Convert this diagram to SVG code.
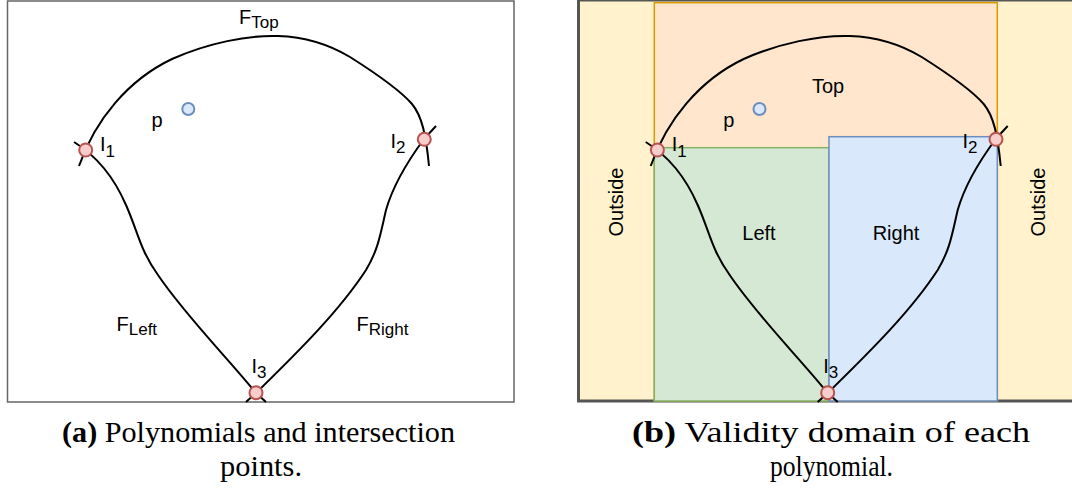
<svg xmlns="http://www.w3.org/2000/svg" xmlns:xlink="http://www.w3.org/1999/xlink" width="1072" height="490" viewBox="0 0 1072 490">
<style>
.lbl{font-family:"Liberation Sans",Arial,sans-serif;font-size:20px;fill:#000}
.sub{font-size:17px}
.curve{fill:none;stroke:#000;stroke-width:2}
.ipt{fill:#f8cecc;stroke:#b85450;stroke-width:2}
.ppt{fill:#dae8fc;stroke:#6c8ebf;stroke-width:2}
.cap{font-family:"Liberation Serif","Times New Roman",serif;font-size:30px;fill:#000}
.capb{font-weight:bold}
</style>
<defs>
<path id="fTop" d="M79,166 C95,120 128,80 172,59 C208,43 248,35 278,36 C308,37 330,45 350,57 C380,76 400,90 412,104 C422,116 426,135 429,166"/>
<path id="fLeft" d="M74,142 C100,158 116,182 126,205 C138,232 140,250 158,275 C185,315 225,355 256,393 L266,402"/>
<path id="fRight" d="M436,126 L424,139 C410,158 394,182 386,210 C380,236 378,250 366,270 C340,310 300,350 256,393 L246,402"/>
</defs>

<!-- Panel (a) -->
<g id="panelA">
<rect id="frameA" x="7.5" y="1" width="506.5" height="401" fill="#fff" stroke="#666" stroke-width="1.5"/>
<g id="connectorsA">
<use xlink:href="#fTop" class="curve"/>
<use xlink:href="#fLeft" class="curve"/>
<use xlink:href="#fRight" class="curve"/>
</g>
<g id="labelFTop"><text class="lbl" x="239" y="23.5">F<tspan class="sub" dy="4">Top</tspan></text></g>
<g id="labelFLeft"><text class="lbl" x="116.5" y="330.7">F<tspan class="sub" dy="4.5">Left</tspan></text></g>
<g id="labelFRight"><text class="lbl" x="356.5" y="330.7">F<tspan class="sub" dy="4.5">Right</tspan></text></g>
<g id="nodeA_p"><circle class="ppt" cx="188.3" cy="109" r="6"/><text class="lbl" x="151.5" y="127">p</text></g>
<g id="nodeA_I1"><circle class="ipt" cx="85.7" cy="150" r="6.5"/><text class="lbl" x="100" y="151">I<tspan class="sub" dy="5.5">1</tspan></text></g>
<g id="nodeA_I2"><circle class="ipt" cx="424.3" cy="139.3" r="6.5"/><text class="lbl" x="390.5" y="147.5">I<tspan class="sub" dy="5">2</tspan></text></g>
<g id="nodeA_I3"><circle class="ipt" cx="256" cy="392.7" r="6.5"/><text class="lbl" x="251.5" y="373.3">I<tspan class="sub" dy="5">3</tspan></text></g>
</g>

<!-- Panel (b) -->
<g id="panelB">
<rect id="frameB" x="578.5" y="0" width="500" height="401" fill="#fff2cc" stroke="#555" stroke-width="3"/>
<g id="regionTop"><rect x="654.3" y="2.7" width="343" height="398" fill="#ffe6cc" stroke="#d79b00" stroke-width="1.5"/></g>
<g id="regionLeft"><rect x="654.3" y="147.7" width="174.7" height="253.3" fill="#d5e8d4" stroke="#82b366" stroke-width="1.5"/></g>
<g id="regionRight"><rect x="829" y="136.7" width="168.3" height="264.3" fill="#dae8fc" stroke="#6c8ebf" stroke-width="1.5"/></g>
<g id="labelTop"><text class="lbl" x="828" y="92.7" text-anchor="middle">Top</text></g>
<g id="labelLeft"><text class="lbl" x="759" y="240" text-anchor="middle">Left</text></g>
<g id="labelRight"><text class="lbl" x="896" y="240" text-anchor="middle">Right</text></g>
<g id="labelOutsideL"><text class="lbl" transform="translate(622.5,202) rotate(-90)" text-anchor="middle">Outside</text></g>
<g id="labelOutsideR"><text class="lbl" transform="translate(1045,202) rotate(-90)" text-anchor="middle">Outside</text></g>
<g id="connectorsB" transform="translate(571.7,0)">
<use xlink:href="#fTop" class="curve"/>
<use xlink:href="#fLeft" class="curve"/>
<use xlink:href="#fRight" class="curve"/>
</g>
<g id="nodeB_p"><circle class="ppt" cx="759.5" cy="109" r="6"/><text class="lbl" x="723.3" y="127">p</text></g>
<g id="nodeB_I1"><circle class="ipt" cx="657.4" cy="150" r="6.5"/><text class="lbl" x="671.7" y="151">I<tspan class="sub" dy="5.5">1</tspan></text></g>
<g id="nodeB_I2"><circle class="ipt" cx="996" cy="139.3" r="6.5"/><text class="lbl" x="962.5" y="147.5">I<tspan class="sub" dy="5">2</tspan></text></g>
<g id="nodeB_I3"><circle class="ipt" cx="827.7" cy="392.7" r="6.5"/><text class="lbl" x="823.2" y="373.3">I<tspan class="sub" dy="5">3</tspan></text></g>
</g>

<!-- Captions -->
<g id="captionA">
<text class="cap" x="62" y="442" textLength="393" lengthAdjust="spacingAndGlyphs"><tspan class="capb">(a)</tspan> Polynomials and intersection</text>
<text class="cap" x="220" y="476" textLength="82" lengthAdjust="spacingAndGlyphs">points.</text>
</g>
<g id="captionB">
<text class="cap" x="632" y="442" textLength="398" lengthAdjust="spacingAndGlyphs"><tspan class="capb">(b)</tspan> Validity domain of each</text>
<text class="cap" x="770" y="476" textLength="123" lengthAdjust="spacingAndGlyphs">polynomial.</text>
</g>
</svg>
